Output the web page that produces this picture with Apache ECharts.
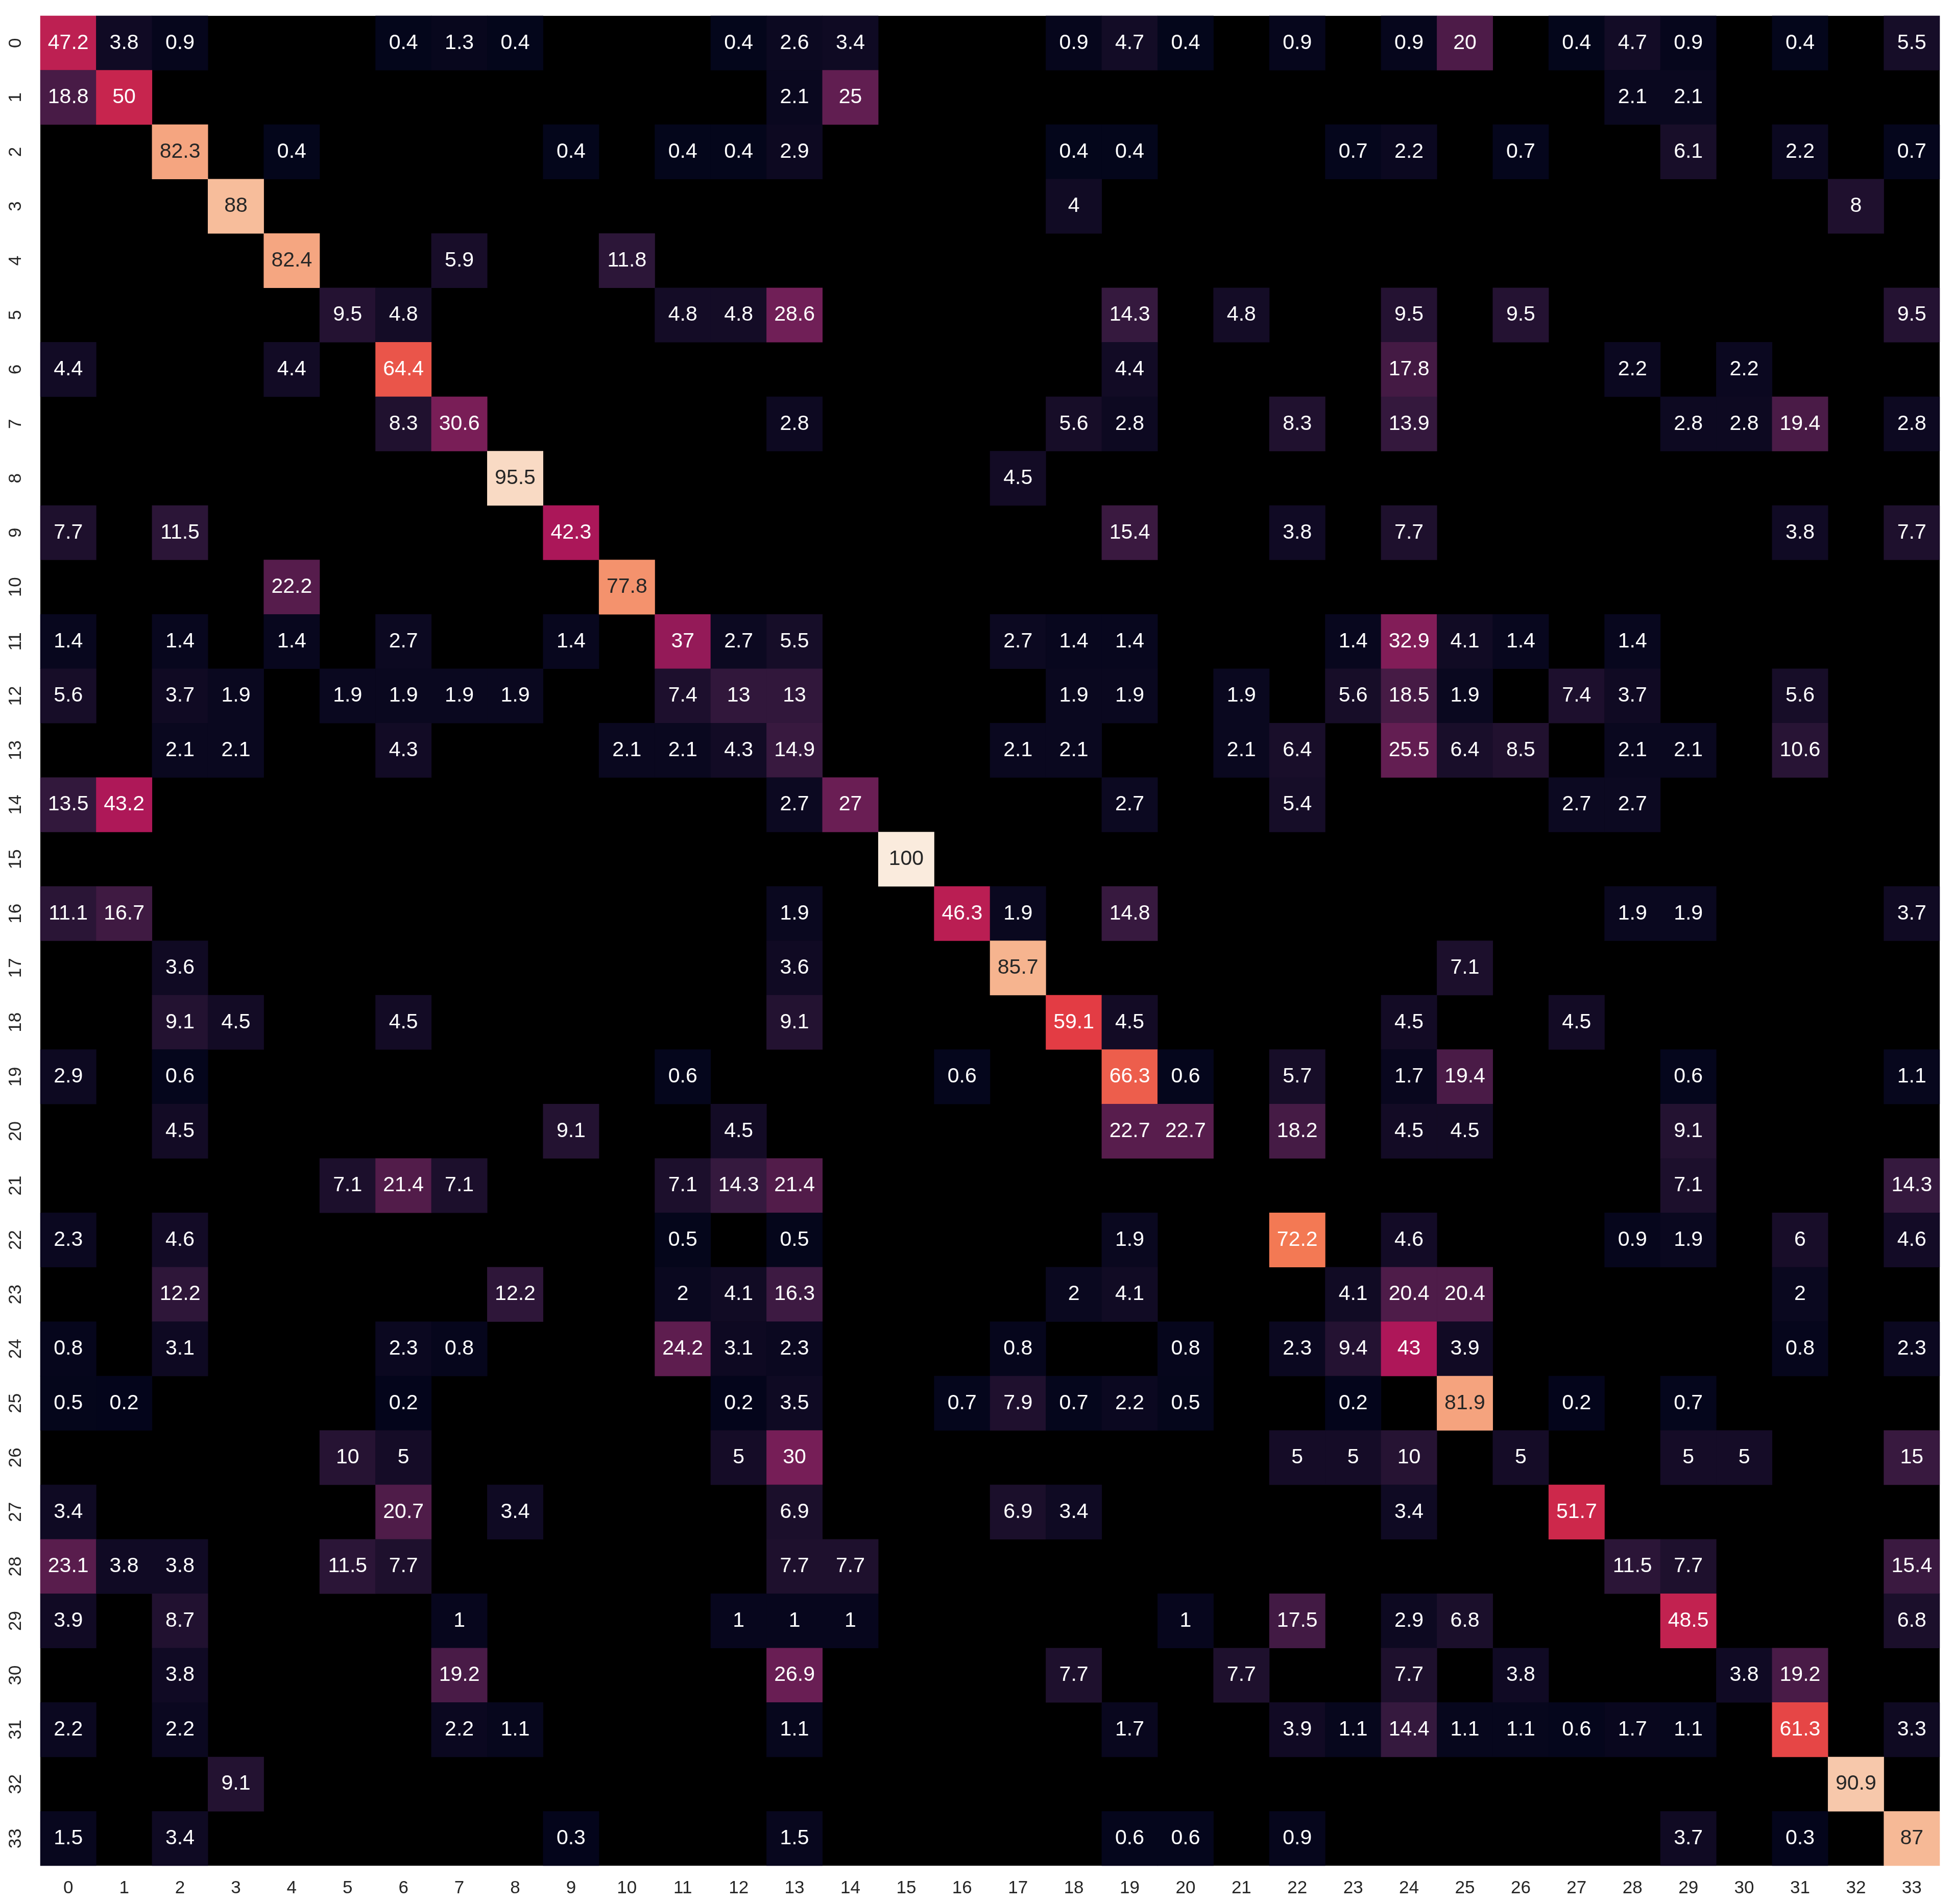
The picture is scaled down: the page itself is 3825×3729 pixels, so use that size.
<!DOCTYPE html>
<html>
<head>
<meta charset="utf-8">
<script src="https://cdn.jsdelivr.net/npm/echarts@6/dist/echarts.min.js"></script>
<style>
html,body{margin:0;padding:0;background:#fff;}
#chart{width:3825px;height:3729px;}
</style>
</head>
<body>
<div id="chart"></div>
<script>
// Category labels (true class rows / predicted class columns)
const categories = ['0','1','2','3','4','5','6','7','8','9','10','11','12','13','14','15','16','17','18','19','20','21','22','23','24','25','26','27','28','29','30','31','32','33'];

// Row values (percent); 0 = empty (masked) cell
const row0  = [47.2,3.8,0.9,0,0,0,0.4,1.3,0.4,0, 0,0,0.4,2.6,3.4,0,0,0,0.9,4.7, 0.4,0,0.9,0,0.9,20,0,0.4,4.7,0.9, 0,0.4,0,5.5];
const row1  = [18.8,50,0,0,0,0,0,0,0,0, 0,0,0,2.1,25,0,0,0,0,0, 0,0,0,0,0,0,0,0,2.1,2.1, 0,0,0,0];
const row2  = [0,0,82.3,0,0.4,0,0,0,0,0.4, 0,0.4,0.4,2.9,0,0,0,0,0.4,0.4, 0,0,0,0.7,2.2,0,0.7,0,0,6.1, 0,2.2,0,0.7];
const row3  = [0,0,0,88,0,0,0,0,0,0, 0,0,0,0,0,0,0,0,4,0, 0,0,0,0,0,0,0,0,0,0, 0,0,8,0];
const row4  = [0,0,0,0,82.4,0,0,5.9,0,0, 11.8,0,0,0,0,0,0,0,0,0, 0,0,0,0,0,0,0,0,0,0, 0,0,0,0];
const row5  = [0,0,0,0,0,9.5,4.8,0,0,0, 0,4.8,4.8,28.6,0,0,0,0,0,14.3, 0,4.8,0,0,9.5,0,9.5,0,0,0, 0,0,0,9.5];
const row6  = [4.4,0,0,0,4.4,0,64.4,0,0,0, 0,0,0,0,0,0,0,0,0,4.4, 0,0,0,0,17.8,0,0,0,2.2,0, 2.2,0,0,0];
const row7  = [0,0,0,0,0,0,8.3,30.6,0,0, 0,0,0,2.8,0,0,0,0,5.6,2.8, 0,0,8.3,0,13.9,0,0,0,0,2.8, 2.8,19.4,0,2.8];
const row8  = [0,0,0,0,0,0,0,0,95.5,0, 0,0,0,0,0,0,0,4.5,0,0, 0,0,0,0,0,0,0,0,0,0, 0,0,0,0];
const row9  = [7.7,0,11.5,0,0,0,0,0,0,42.3, 0,0,0,0,0,0,0,0,0,15.4, 0,0,3.8,0,7.7,0,0,0,0,0, 0,3.8,0,7.7];
const row10 = [0,0,0,0,22.2,0,0,0,0,0, 77.8,0,0,0,0,0,0,0,0,0, 0,0,0,0,0,0,0,0,0,0, 0,0,0,0];
const row11 = [1.4,0,1.4,0,1.4,0,2.7,0,0,1.4, 0,37,2.7,5.5,0,0,0,2.7,1.4,1.4, 0,0,0,1.4,32.9,4.1,1.4,0,1.4,0, 0,0,0,0];
const row12 = [5.6,0,3.7,1.9,0,1.9,1.9,1.9,1.9,0, 0,7.4,13,13,0,0,0,0,1.9,1.9, 0,1.9,0,5.6,18.5,1.9,0,7.4,3.7,0, 0,5.6,0,0];
const row13 = [0,0,2.1,2.1,0,0,4.3,0,0,0, 2.1,2.1,4.3,14.9,0,0,0,2.1,2.1,0, 0,2.1,6.4,0,25.5,6.4,8.5,0,2.1,2.1, 0,10.6,0,0];
const row14 = [13.5,43.2,0,0,0,0,0,0,0,0, 0,0,0,2.7,27,0,0,0,0,2.7, 0,0,5.4,0,0,0,0,2.7,2.7,0, 0,0,0,0];
const row15 = [0,0,0,0,0,0,0,0,0,0, 0,0,0,0,0,100,0,0,0,0, 0,0,0,0,0,0,0,0,0,0, 0,0,0,0];
const row16 = [11.1,16.7,0,0,0,0,0,0,0,0, 0,0,0,1.9,0,0,46.3,1.9,0,14.8, 0,0,0,0,0,0,0,0,1.9,1.9, 0,0,0,3.7];
const row17 = [0,0,3.6,0,0,0,0,0,0,0, 0,0,0,3.6,0,0,0,85.7,0,0, 0,0,0,0,0,7.1,0,0,0,0, 0,0,0,0];
const row18 = [0,0,9.1,4.5,0,0,4.5,0,0,0, 0,0,0,9.1,0,0,0,0,59.1,4.5, 0,0,0,0,4.5,0,0,4.5,0,0, 0,0,0,0];
const row19 = [2.9,0,0.6,0,0,0,0,0,0,0, 0,0.6,0,0,0,0,0.6,0,0,66.3, 0.6,0,5.7,0,1.7,19.4,0,0,0,0.6, 0,0,0,1.1];
const row20 = [0,0,4.5,0,0,0,0,0,0,9.1, 0,0,4.5,0,0,0,0,0,0,22.7, 22.7,0,18.2,0,4.5,4.5,0,0,0,9.1, 0,0,0,0];
const row21 = [0,0,0,0,0,7.1,21.4,7.1,0,0, 0,7.1,14.3,21.4,0,0,0,0,0,0, 0,0,0,0,0,0,0,0,0,7.1, 0,0,0,14.3];
const row22 = [2.3,0,4.6,0,0,0,0,0,0,0, 0,0.5,0,0.5,0,0,0,0,0,1.9, 0,0,72.2,0,4.6,0,0,0,0.9,1.9, 0,6,0,4.6];
const row23 = [0,0,12.2,0,0,0,0,0,12.2,0, 0,2,4.1,16.3,0,0,0,0,2,4.1, 0,0,0,4.1,20.4,20.4,0,0,0,0, 0,2,0,0];
const row24 = [0.8,0,3.1,0,0,0,2.3,0.8,0,0, 0,24.2,3.1,2.3,0,0,0,0.8,0,0, 0.8,0,2.3,9.4,43,3.9,0,0,0,0, 0,0.8,0,2.3];
const row25 = [0.5,0.2,0,0,0,0,0.2,0,0,0, 0,0,0.2,3.5,0,0,0.7,7.9,0.7,2.2, 0.5,0,0,0.2,0,81.9,0,0.2,0,0.7, 0,0,0,0];
const row26 = [0,0,0,0,0,10,5,0,0,0, 0,0,5,30,0,0,0,0,0,0, 0,0,5,5,10,0,5,0,0,5, 5,0,0,15];
const row27 = [3.4,0,0,0,0,0,20.7,0,3.4,0, 0,0,0,6.9,0,0,0,6.9,3.4,0, 0,0,0,0,3.4,0,0,51.7,0,0, 0,0,0,0];
const row28 = [23.1,3.8,3.8,0,0,11.5,7.7,0,0,0, 0,0,0,7.7,7.7,0,0,0,0,0, 0,0,0,0,0,0,0,0,11.5,7.7, 0,0,0,15.4];
const row29 = [3.9,0,8.7,0,0,0,0,1,0,0, 0,0,1,1,1,0,0,0,0,0, 1,0,17.5,0,2.9,6.8,0,0,0,48.5, 0,0,0,6.8];
const row30 = [0,0,3.8,0,0,0,0,19.2,0,0, 0,0,0,26.9,0,0,0,0,7.7,0, 0,7.7,0,0,7.7,0,3.8,0,0,0, 3.8,19.2,0,0];
const row31 = [2.2,0,2.2,0,0,0,0,2.2,1.1,0, 0,0,0,1.1,0,0,0,0,0,1.7, 0,0,3.9,1.1,14.4,1.1,1.1,0.6,1.7,1.1, 0,61.3,0,3.3];
const row32 = [0,0,0,9.1,0,0,0,0,0,0, 0,0,0,0,0,0,0,0,0,0, 0,0,0,0,0,0,0,0,0,0, 0,0,90.9,0];
const row33 = [1.5,0,3.4,0,0,0,0,0,0,0.3, 0,0,0,1.5,0,0,0,0,0,0.6, 0.6,0,0.9,0,0,0,0,0,0,3.7, 0,0.3,0,87];

const rows = [row0,row1,row2,row3,row4,row5,row6,row7,row8,row9,row10,row11,row12,row13,row14,row15,row16,row17,row18,row19,row20,row21,row22,row23,row24,row25,row26,row27,row28,row29,row30,row31,row32,row33];

// rocket colormap stops
const rocket = ['#03051a','#35193e','#701f57','#ad1759','#e13342','#f37651','#f6b48f','#faebdd'];

const cells = [];
rows.forEach((r, yi) => {
  r.forEach((v, xi) => {
    if (v !== 0) {
      cells.push({
        value: [xi, yi, v],
        label: { color: v >= 75 ? '#262626' : '#ffffff' }
      });
    }
  });
});

const chart = echarts.init(document.getElementById('chart'), null, { renderer: 'canvas' });
const FONT = "'Liberation Sans', Arial, Helvetica, sans-serif";
chart.setOption({
  backgroundColor: '#ffffff',
  animation: false,
  textStyle: { fontFamily: FONT },
  grid: {
    left: 79, top: 31, width: 3720, height: 3623,
    show: true, backgroundColor: '#000000', borderWidth: 0,
    containLabel: false
  },
  xAxis: {
    type: 'category',
    data: categories,
    position: 'bottom',
    axisLine: { show: false },
    axisTick: { show: false },
    splitLine: { show: false },
    splitArea: { show: false },
    axisLabel: { fontSize: 35, color: '#262626', margin: 27, fontFamily: FONT, interval: 0 }
  },
  yAxis: {
    type: 'category',
    data: categories,
    inverse: true,
    axisLine: { show: false },
    axisTick: { show: false },
    splitLine: { show: false },
    splitArea: { show: false },
    axisLabel: { fontSize: 35, color: '#262626', margin: 30, rotate: 90, fontFamily: FONT, interval: 0 }
  },
  visualMap: {
    show: false,
    type: 'continuous',
    min: 0,
    max: 100,
    dimension: 2,
    inRange: { color: rocket }
  },
  series: [{
    type: 'heatmap',
    data: cells,
    label: {
      show: true,
      fontSize: 41,
      fontFamily: FONT,
      formatter: p => String(p.value[2])
    },
    itemStyle: { borderWidth: 0 },
    emphasis: { disabled: true }
  }]
});
</script>
</body>
</html>
